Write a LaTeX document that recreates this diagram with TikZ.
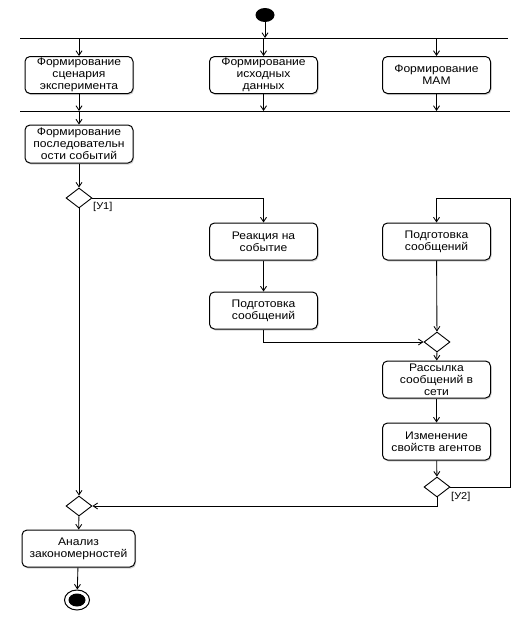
\documentclass[tikz,border=0pt]{standalone}
\usepackage{fontspec}
\setmainfont{Liberation Sans}[FakeStretch=1.1]
\usetikzlibrary{arrows.meta,shapes.geometric,shadows}
\begin{document}
\begin{tikzpicture}[x=1pt,y=-1pt,
  act/.style={draw,line width=1pt,rounded corners=5pt,fill=white,align=center,
    minimum width=108pt,minimum height=37pt,inner sep=1pt,
    font=\fontsize{11}{11.8}\selectfont,
    drop shadow={shadow xshift=1pt,shadow yshift=-1.5pt,opacity=0.35}},
  dec/.style={draw,line width=0.9pt,diamond,fill=white,minimum width=26pt,minimum height=20pt,inner sep=0pt},
  arr/.style={line width=0.85pt,-{Straight Barb[length=4.5pt,width=6pt]}},
  bar/.style={line width=0.9pt},
  guard/.style={font=\fontsize{10}{11}\selectfont,anchor=west,inner sep=0pt}]
\useasboundingbox (0,0) rectangle (521,629);
% start
\node[ellipse,fill=black,minimum width=19pt,minimum height=14pt,inner sep=0pt] (start) at (265,15) {};
% fork bars
\coordinate (f1L) at (20,38); \coordinate (f1R) at (508,38);
\coordinate (f2L) at (20,111); \coordinate (f2R) at (510,111);
\draw[bar] (f1L) -- (f1R);
\draw[bar] (f2L) -- (f2R);
% activities
\node[act] (b1) at (79,75) {Формирование\\сценария\\эксперимента};
\node[act] (b2) at (263.5,75) {Формирование\\исходных\\данных};
\node[act] (b3) at (436.5,75) {Формирование\\МАМ};
\node[act,minimum height=38pt] (b4) at (79,144) {Формирование\\последовательн\\ости событий};
\node[act] (b5) at (263.5,241.5) {Реакция на\\событие};
\node[act] (b6) at (263.5,310.5) {Подготовка\\сообщений};
\node[act] (b7) at (436.5,241.5) {Подготовка\\сообщений};
\node[act] (b8) at (436.5,379.5) {Рассылка\\сообщений в\\сети};
\node[act] (b9) at (436.5,441.5) {Изменение\\свойств агентов};
\node[act,minimum width=113pt] (b10) at (78.5,548.5) {Анализ\\закономерностей};
% decisions
\node[dec] (d1) at (79,198) {};
\node[dec] (d2) at (437,342) {};
\node[dec] (d3) at (437,487) {};
\node[dec] (d4) at (79,506) {};
\node[guard] (g1) at (93,207) {[У1]};
\node[guard] (g2) at (451,497) {[У2]};
% end
\node[ellipse,draw,line width=1pt,fill=white,minimum width=25pt,minimum height=20pt,inner sep=0pt] (end) at (77,600) {};
\fill (end.center) ellipse [x radius=8.5pt,y radius=6.5pt];
% connectors
\draw[arr] (start) -- (start |- f1L);
\draw[arr] (b1 |- f1L) -- (b1);
\draw[arr] (b2 |- f1L) -- (b2);
\draw[arr] (b3 |- f1L) -- (b3);
\draw[arr] (b1) -- (b1 |- f2L);
\draw[arr] (b2) -- (b2 |- f2L);
\draw[arr] (b3) -- (b3 |- f2L);
\draw[arr] (b4 |- f2L) -- (b4);
\draw[arr] (b4) -- (d1);
\draw[arr] (d1.east) -| (b5.north);
\draw[arr] (b5) -- (b6);
\draw[arr] (b6.south) |- (d2.west);
\draw[arr] (b7) -- (d2);
\draw[arr] (d2) -- (b8);
\draw[arr] (b8) -- (b9);
\draw[arr] (b9) -- (d3);
\coordinate (lr) at (510,198);
\draw[arr] (d3.east) -| (lr) -| (b7.north);
\draw[arr] (d3.south) |- (d4.east);
\draw[arr] (d1) -- (d4);
\draw[arr] (d4) -- (b10);
\draw[arr] (b10) -- (end);
\end{tikzpicture}
\end{document}
